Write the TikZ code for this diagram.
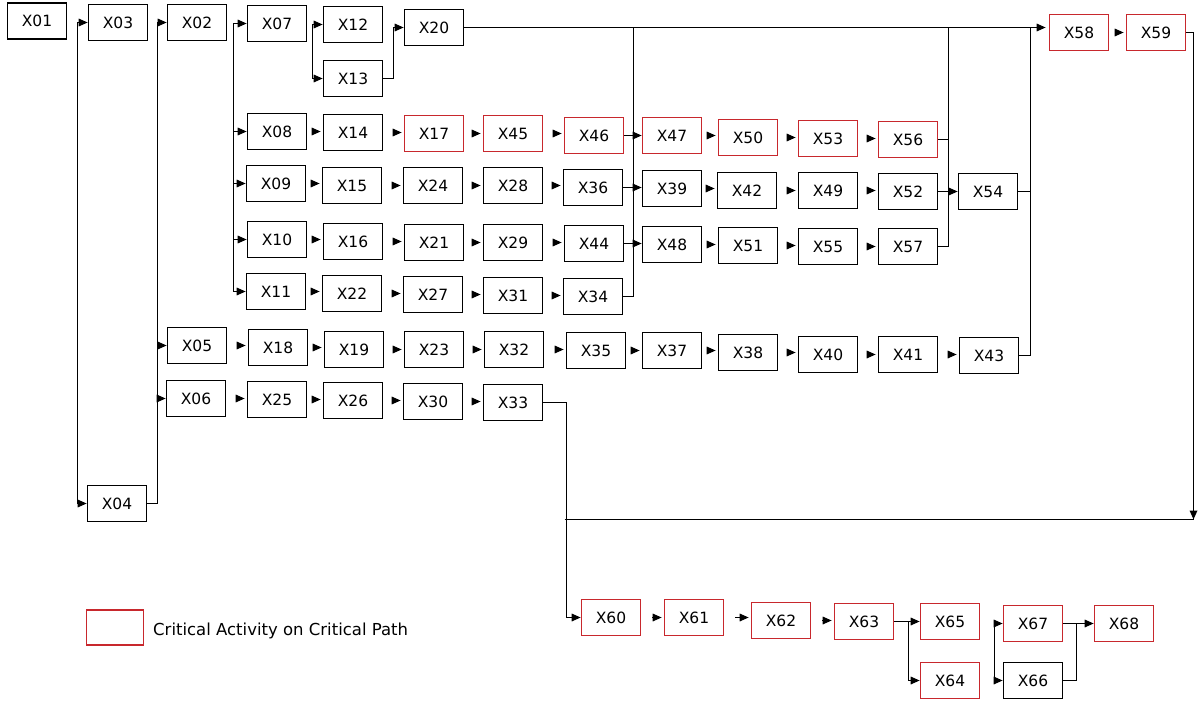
\documentclass[tikz,border=0pt]{standalone}
\usepackage{fontspec}
\setmainfont{DejaVu Sans}
\usetikzlibrary{arrows.meta,calc}
\definecolor{critred}{RGB}{200,40,45}
\begin{document}
\begin{tikzpicture}[x=1pt,y=-1pt,
 bx/.style={draw=black,line width=1.6pt,minimum width=59pt,minimum height=36pt,inner sep=0pt,font=\fontsize{15.5}{17}\selectfont,fill=white},
 cr/.style={bx,draw=critred},
 ln/.style={line width=1.6pt},
 ar/.style={ln,-{Triangle[length=9pt,width=7.5pt]}},
 tp/.style={ar,shorten <=11pt,shorten >=2pt}]
\useasboundingbox[fill=white] (0,0) rectangle (1199,709);
% boxes
\node[bx] (X01) at (37,21) {X01};
\node[bx] (X03) at (118,22.5) {X03};
\node[bx] (X02) at (197,22.5) {X02};
\node[bx] (X07) at (277,23.5) {X07};
\node[bx] (X12) at (353,24.5) {X12};
\node[bx] (X13) at (353,78.5) {X13};
\node[bx] (X20) at (434,27.5) {X20};
\node[cr] (X58) at (1079,32.5) {X58};
\node[cr] (X59) at (1156,32.5) {X59};
\node[bx] (X08) at (277,131.5) {X08};
\node[bx] (X14) at (353,132.5) {X14};
\node[cr] (X17) at (434,133.5) {X17};
\node[cr] (X45) at (513,133.5) {X45};
\node[cr] (X46) at (594,135.5) {X46};
\node[cr] (X47) at (672,135.5) {X47};
\node[cr] (X50) at (748,137.5) {X50};
\node[cr] (X53) at (828,138.5) {X53};
\node[cr] (X56) at (908,139.5) {X56};
\node[bx] (X09) at (276,183.5) {X09};
\node[bx] (X15) at (352,185.5) {X15};
\node[bx] (X24) at (433,185.5) {X24};
\node[bx] (X28) at (513,185.5) {X28};
\node[bx] (X36) at (593,187.5) {X36};
\node[bx] (X39) at (672,188.5) {X39};
\node[bx] (X42) at (747,190.5) {X42};
\node[bx] (X49) at (828,190.5) {X49};
\node[bx] (X52) at (908,191.5) {X52};
\node[bx] (X54) at (988,191.5) {X54};
\node[bx] (X10) at (277,239.5) {X10};
\node[bx] (X16) at (353,241.5) {X16};
\node[bx] (X21) at (434,242.5) {X21};
\node[bx] (X29) at (513,242.5) {X29};
\node[bx] (X44) at (594,243.5) {X44};
\node[bx] (X48) at (672,244.5) {X48};
\node[bx] (X51) at (748,245.5) {X51};
\node[bx] (X55) at (828,246.5) {X55};
\node[bx] (X57) at (908,246.5) {X57};
\node[bx] (X11) at (276,291.5) {X11};
\node[bx] (X22) at (352,293.5) {X22};
\node[bx] (X27) at (433,294.5) {X27};
\node[bx] (X31) at (513,295.5) {X31};
\node[bx] (X34) at (593,296.5) {X34};
\node[bx] (X05) at (197,345.5) {X05};
\node[bx] (X18) at (278,347.5) {X18};
\node[bx] (X19) at (354,349.5) {X19};
\node[bx] (X23) at (434,349.5) {X23};
\node[bx] (X32) at (514,349.5) {X32};
\node[bx] (X35) at (596,350.5) {X35};
\node[bx] (X37) at (672,350.5) {X37};
\node[bx] (X38) at (748,352.5) {X38};
\node[bx] (X40) at (828,354.5) {X40};
\node[bx] (X41) at (908,354.5) {X41};
\node[bx] (X43) at (989,355.5) {X43};
\node[bx] (X06) at (196,398.5) {X06};
\node[bx] (X25) at (277,399.5) {X25};
\node[bx] (X26) at (353,400.5) {X26};
\node[bx] (X30) at (433,401.5) {X30};
\node[bx] (X33) at (513,402.5) {X33};
\node[bx] (X04) at (117,503.5) {X04};
\node[cr] (X60) at (611,617.5) {X60};
\node[cr] (X61) at (694,617.5) {X61};
\node[cr] (X62) at (781,620.5) {X62};
\node[cr] (X63) at (864,621.5) {X63};
\node[cr] (X65) at (950,621.5) {X65};
\node[cr] (X64) at (950,680.5) {X64};
\node[cr] (X67) at (1033,623.5) {X67};
\node[bx] (X66) at (1033,680.5) {X66};
\node[cr] (X68) at (1124,623.5) {X68};
% legend
\node[cr,minimum width=57pt,minimum height=35pt] (leg) at (115,627.5) {};
\node[anchor=west,inner sep=0pt,font=\fontsize{16.5}{18}\selectfont] (legt) at (153,631) {Critical Activity on Critical Path};
% bus coordinates
\coordinate (bA) at (77.5,0);
\coordinate (bB) at (157.5,0);
\coordinate (bC) at (233.5,0);
\coordinate (bD) at (312.5,0);
\coordinate (bE) at (393.5,0);
\coordinate (bF) at (633.5,0);
\coordinate (bG) at (948.5,0);
\coordinate (bH) at (1030.5,0);
\coordinate (bI) at (1193.5,0);
\coordinate (bJ) at (566.5,0);
\coordinate (bK) at (908.5,0);
\coordinate (bL) at (994.5,0);
\coordinate (bM) at (1076.5,0);
\coordinate (low) at (0,519.5);
% bus A
\draw[ln] (bA |- X03.west) -- (bA |- X04.west);
\draw[ar] (bA |- X03.west) -- (X03.west);
\draw[ar] (bA |- X04.west) -- (X04.west);
% bus B
\draw[ln] (bB |- X02.west) -- (bB |- X04.east) -- (X04.east);
\foreach \n in {X02,X05,X06} \draw[ar] (bB |- \n.west) -- (\n.west);
% bus C
\draw[ln] (bC |- X07.west) -- (bC |- X11.west);
\foreach \n in {X07,X08,X09,X10,X11} \draw[ar] (bC |- \n.west) -- (\n.west);
% bus D
\draw[ln] (bD |- X12.west) -- (bD |- X13.west);
\foreach \n in {X12,X13} \draw[ar] (bD |- \n.west) -- (\n.west);
% X13 -> X20
\draw[ar] (X13.east) -- (bE |- X13.east) -- (bE |- X20.west) -- (X20.west);
% top line
\draw[ar,shorten >=3pt] (X20.east) -- (X20.east -| X58.west);
% bus F
\draw[ln] (bF |- X20.east) -- (bF |- X34.east) -- (X34.east);
\draw[ar] (X46.east) -- (X46.east -| X47.west);
\draw[ar] (X36.east) -- (X36.east -| X39.west);
\draw[ar] (X44.east) -- (X44.east -| X48.west);
% bus G
\draw[ln] (bG |- X20.east) -- (bG |- X57.east) -- (X57.east);
\draw[ln] (X56.east) -- (bG |- X56.east);
\draw[ar] (X52.east) -- (X54.west);
% bus H
\draw[ln] (bH |- X20.east) -- (bH |- X43.east) -- (X43.east);
\draw[ln] (X54.east) -- (bH |- X54.east);
% X59 down and long line
\draw[ar] (X59.east) -- (bI |- X59.east) -- (bI |- low);
\draw[ln] ([xshift=-2pt]bJ |- low) -- (bI |- low);
% X33 -> X60
\draw[ar] (X33.east) -- (bJ |- X33.east) -- (bJ |- X60.west) -- (X60.west);
% X63 bus
\draw[ar] (X63.east) -- (X65.west);
\draw[ar] (bK |- X63.east) -- (bK |- X64.west) -- (X64.west);
% bus L
\draw[ln] (bL |- X67.west) -- (bL |- X66.west);
\foreach \n in {X67,X66} \draw[ar] (bL |- \n.west) -- (\n.west);
% bus M
\draw[ar] (X67.east) -- (X68.west);
\draw[ln] (X66.east) -- (bM |- X66.east) -- (bM |- X67.east);
% chain tips
\foreach \a/\b in {X08/X14,X14/X17,X17/X45,X45/X46,
  X09/X15,X15/X24,X24/X28,X28/X36,
  X10/X16,X16/X21,X21/X29,X29/X44,
  X11/X22,X22/X27,X27/X31,X31/X34,
  X47/X50,X50/X53,X53/X56,
  X39/X42,X42/X49,X49/X52,
  X48/X51,X51/X55,X55/X57,
  X05/X18,X18/X19,X19/X23,X23/X32,X32/X35,X35/X37,X37/X38,X38/X40,X40/X41,X41/X43,
  X06/X25,X25/X26,X26/X30,X30/X33,
  X58/X59,X60/X61,X61/X62,X62/X63}
  \draw[tp] (\a.east) -- (\a.east -| \b.west);
\end{tikzpicture}
\end{document}
